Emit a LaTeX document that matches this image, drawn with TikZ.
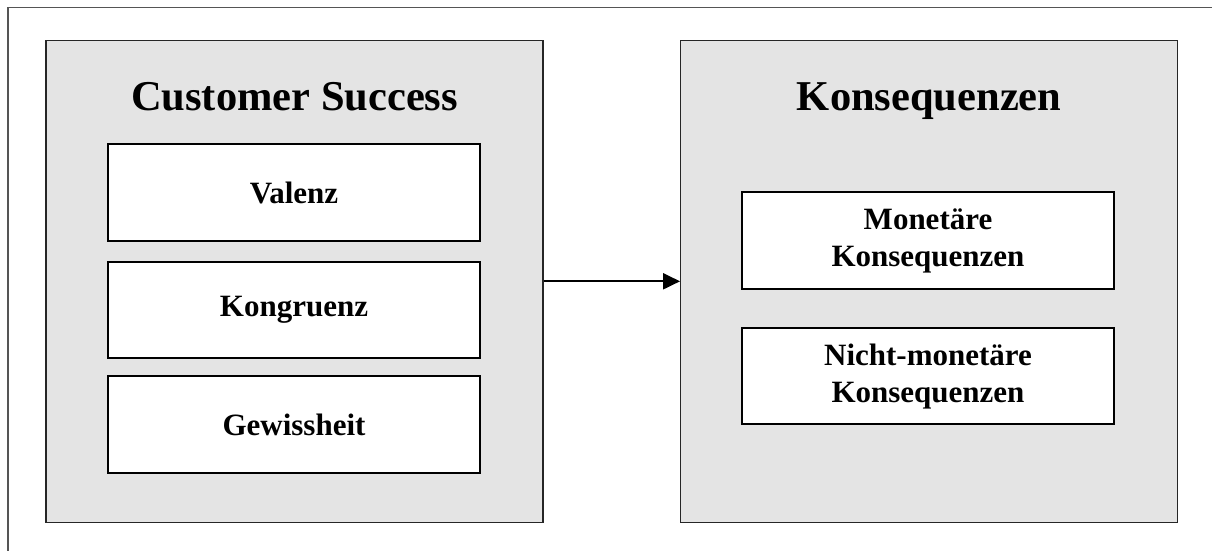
\documentclass[tikz,border=0pt]{standalone}
\usepackage{fontspec}
\setmainfont{Liberation Serif}
\usetikzlibrary{arrows.meta}
\definecolor{panelgray}{HTML}{E4E4E4}
\definecolor{framegray}{HTML}{555555}
\begin{document}
\begin{tikzpicture}[x=1pt,y=-1pt,
  frame/.style={draw=framegray, line width=1.6pt},
  panel/.style={draw=black!85, fill=panelgray, line width=1.3pt, minimum width=497pt, minimum height=482pt, inner sep=0pt},
  item/.style={draw=black, fill=white, line width=2pt, minimum width=372pt, inner sep=0pt, align=center,
    font=\fontsize{31}{37}\selectfont\bfseries},
  heading/.style={anchor=base, inner sep=0pt, font=\fontsize{42.5}{50}\selectfont\bfseries},
  link/.style={-{Triangle[length=17pt,width=16pt]}, line width=2pt}]
\useasboundingbox (0,0) rectangle (1212,551);
% open frame along the top and left edges
\coordinate (fbl) at (8,551);
\coordinate (ftl) at (8,7.5);
\coordinate (ftr) at (1212,7.5);
\draw[frame] (fbl) -- (ftl) -- (ftr);

% two grey panels
\node[panel] (cs) at (294.5,281.3) {};
\node[panel] (ks) at (929.2,281.3) {};

% panel headings
\node[heading] (cst) at (294.5,110) {Customer Success};
\node[heading] (kst) at (929.2,110) {Konsequenzen};

% dimensions of customer success
\node[item, minimum height=97pt] (val) at (294,192.5) {Valenz};
\node[item, minimum height=96pt] (kon) at (294,310) {Kongruenz};
\node[item, minimum height=97pt] (gew) at (294,424.7) {Gewissheit};

% consequences
\node[item, minimum height=97pt] (mon) at (928,240.7) {Monetäre\\Konsequenzen};
\node[item, minimum height=96pt] (nmo) at (928,376.4) {Nicht-monetäre\\Konsequenzen};

% link between the panels
\draw[link] (cs.east) -- (ks.west);
\end{tikzpicture}
\end{document}
